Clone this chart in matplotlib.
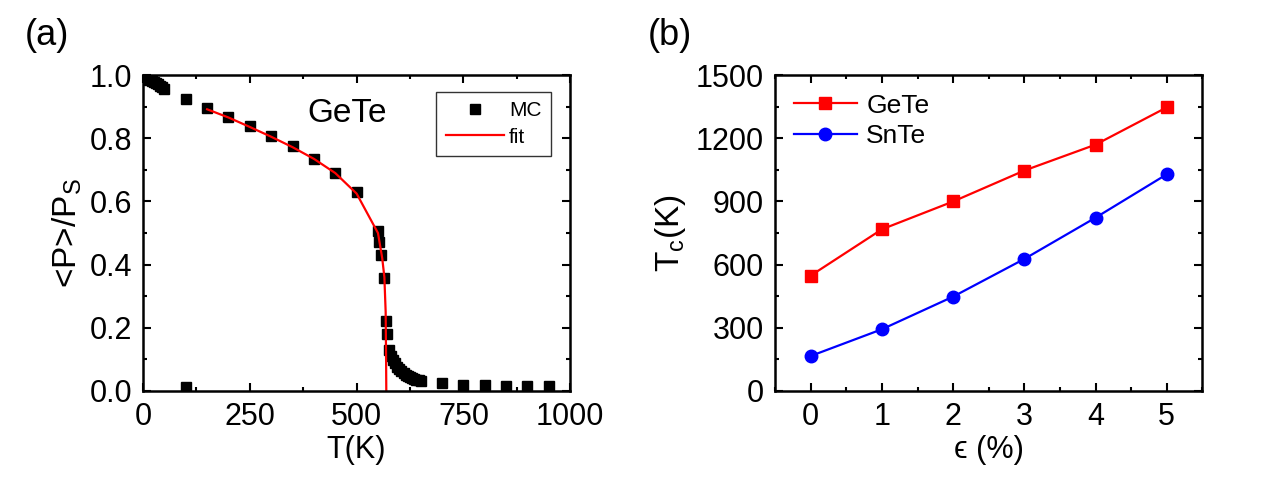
import matplotlib.pyplot as plt
from matplotlib.ticker import MultipleLocator

plt.rcParams['font.family'] = ['Liberation Sans', 'DejaVu Sans']
plt.rcParams['mathtext.fontset'] = 'custom'
plt.rcParams['mathtext.rm'] = 'Liberation Sans'
plt.rcParams['mathtext.it'] = 'Liberation Sans'

# (a) Monte Carlo polarization vs temperature, GeTe
mc_T = [0, 5, 10, 15, 20, 25, 30, 35, 40, 45, 50, 100, 100, 150, 200, 250, 300, 350, 400, 450, 500,
        550, 552, 558, 563, 568, 572, 576, 580, 585, 590, 595, 600, 605, 610, 615, 620, 625, 630,
        635, 640, 645, 650, 700, 750, 800, 850, 900, 950]
mc_P = [0.995, 0.992, 0.989, 0.986, 0.982, 0.978, 0.975, 0.971, 0.967, 0.962, 0.957, 0.925, 0.012,
        0.897, 0.868, 0.838, 0.808, 0.775, 0.736, 0.690, 0.630,
        0.508, 0.472, 0.432, 0.357, 0.222, 0.179, 0.128, 0.112, 0.098, 0.087, 0.077, 0.069, 0.062,
        0.056, 0.051, 0.047, 0.043, 0.040, 0.037, 0.035, 0.033, 0.031,
        0.024, 0.020, 0.018, 0.016, 0.016, 0.015]
fit_T = [150, 200, 250, 300, 350, 400, 450, 500, 550, 560, 565, 568, 569, 569.5]
fit_P = [0.892, 0.866, 0.836, 0.805, 0.772, 0.735, 0.690, 0.625, 0.500, 0.420, 0.360, 0.250, 0.100, 0.0]

# (b) Tc vs strain
strain = [0, 1, 2, 3, 4, 5]
tc_gete = [548, 768, 900, 1047, 1170, 1347]
tc_snte = [166, 293, 448, 627, 823, 1029]

fig = plt.figure(figsize=(12.75, 4.82), dpi=100)
ax1 = fig.add_axes([0.1122, 0.189, 0.335, 0.655])
ax2 = fig.add_axes([0.608, 0.189, 0.335, 0.655])

for ax in (ax1, ax2):
    for s in ax.spines.values():
        s.set_linewidth(1.8)
    ax.tick_params(which='both', direction='in', top=True, right=True, width=1.5)
    ax.tick_params(which='major', length=5.5, labelsize=22, pad=8)
    ax.tick_params(which='minor', length=3)

ax1.plot(mc_T, mc_P, 's', color='black', markersize=7, label='MC')
ax1.plot(fit_T, fit_P, '-', color='red', lw=1.6, label='fit')
ax1.set_xlim(0, 1000)
ax1.set_ylim(0, 1.0)
ax1.xaxis.set_major_locator(MultipleLocator(250))
ax1.xaxis.set_minor_locator(MultipleLocator(125))
ax1.yaxis.set_major_locator(MultipleLocator(0.2))
ax1.yaxis.set_minor_locator(MultipleLocator(0.1))
ax1.set_yticks([0, 0.2, 0.4, 0.6, 0.8, 1.0])
ax1.set_yticklabels(['0.0', '0.2', '0.4', '0.6', '0.8', '1.0'])
ax1.set_xlabel('T(K)', fontsize=22, labelpad=2)
ax1.set_ylabel(r'<P>/P$_{\rm S}$', fontsize=24, labelpad=4)
ax1.text(0.384, 0.851, 'GeTe', transform=ax1.transAxes, fontsize=24)
leg1 = ax1.legend(loc='upper right', bbox_to_anchor=(0.965, 0.96), fontsize=15, frameon=True,
                  fancybox=False, edgecolor='black', handlelength=2.8, borderpad=0.45,
                  labelspacing=0.35, handletextpad=0.25, borderaxespad=0.2)
leg1.get_frame().set_linewidth(1.0)

ax2.plot(strain, tc_gete, '-s', color='red', markersize=8, lw=1.6, label='GeTe')
ax2.plot(strain, tc_snte, '-o', color='blue', markersize=9, lw=1.6, label='SnTe')
ax2.set_xlim(-0.5, 5.5)
ax2.set_ylim(0, 1500)
ax2.xaxis.set_major_locator(MultipleLocator(1))
ax2.xaxis.set_minor_locator(MultipleLocator(0.5))
ax2.yaxis.set_major_locator(MultipleLocator(300))
ax2.yaxis.set_minor_locator(MultipleLocator(150))
ax2.set_xlabel('ϵ (%)', fontsize=22, labelpad=2)
ax2.set_ylabel(r'T$_{\rm c}$(K)', fontsize=24, labelpad=6)
ax2.legend(loc='upper left', fontsize=19, frameon=False, handlelength=2.4,
           borderpad=0.2, labelspacing=0.25, handletextpad=0.35)

fig.text(0.0196, 0.907, '(a)', fontsize=26)
fig.text(0.508, 0.907, '(b)', fontsize=26)

fig.savefig('out.png', dpi=100)
